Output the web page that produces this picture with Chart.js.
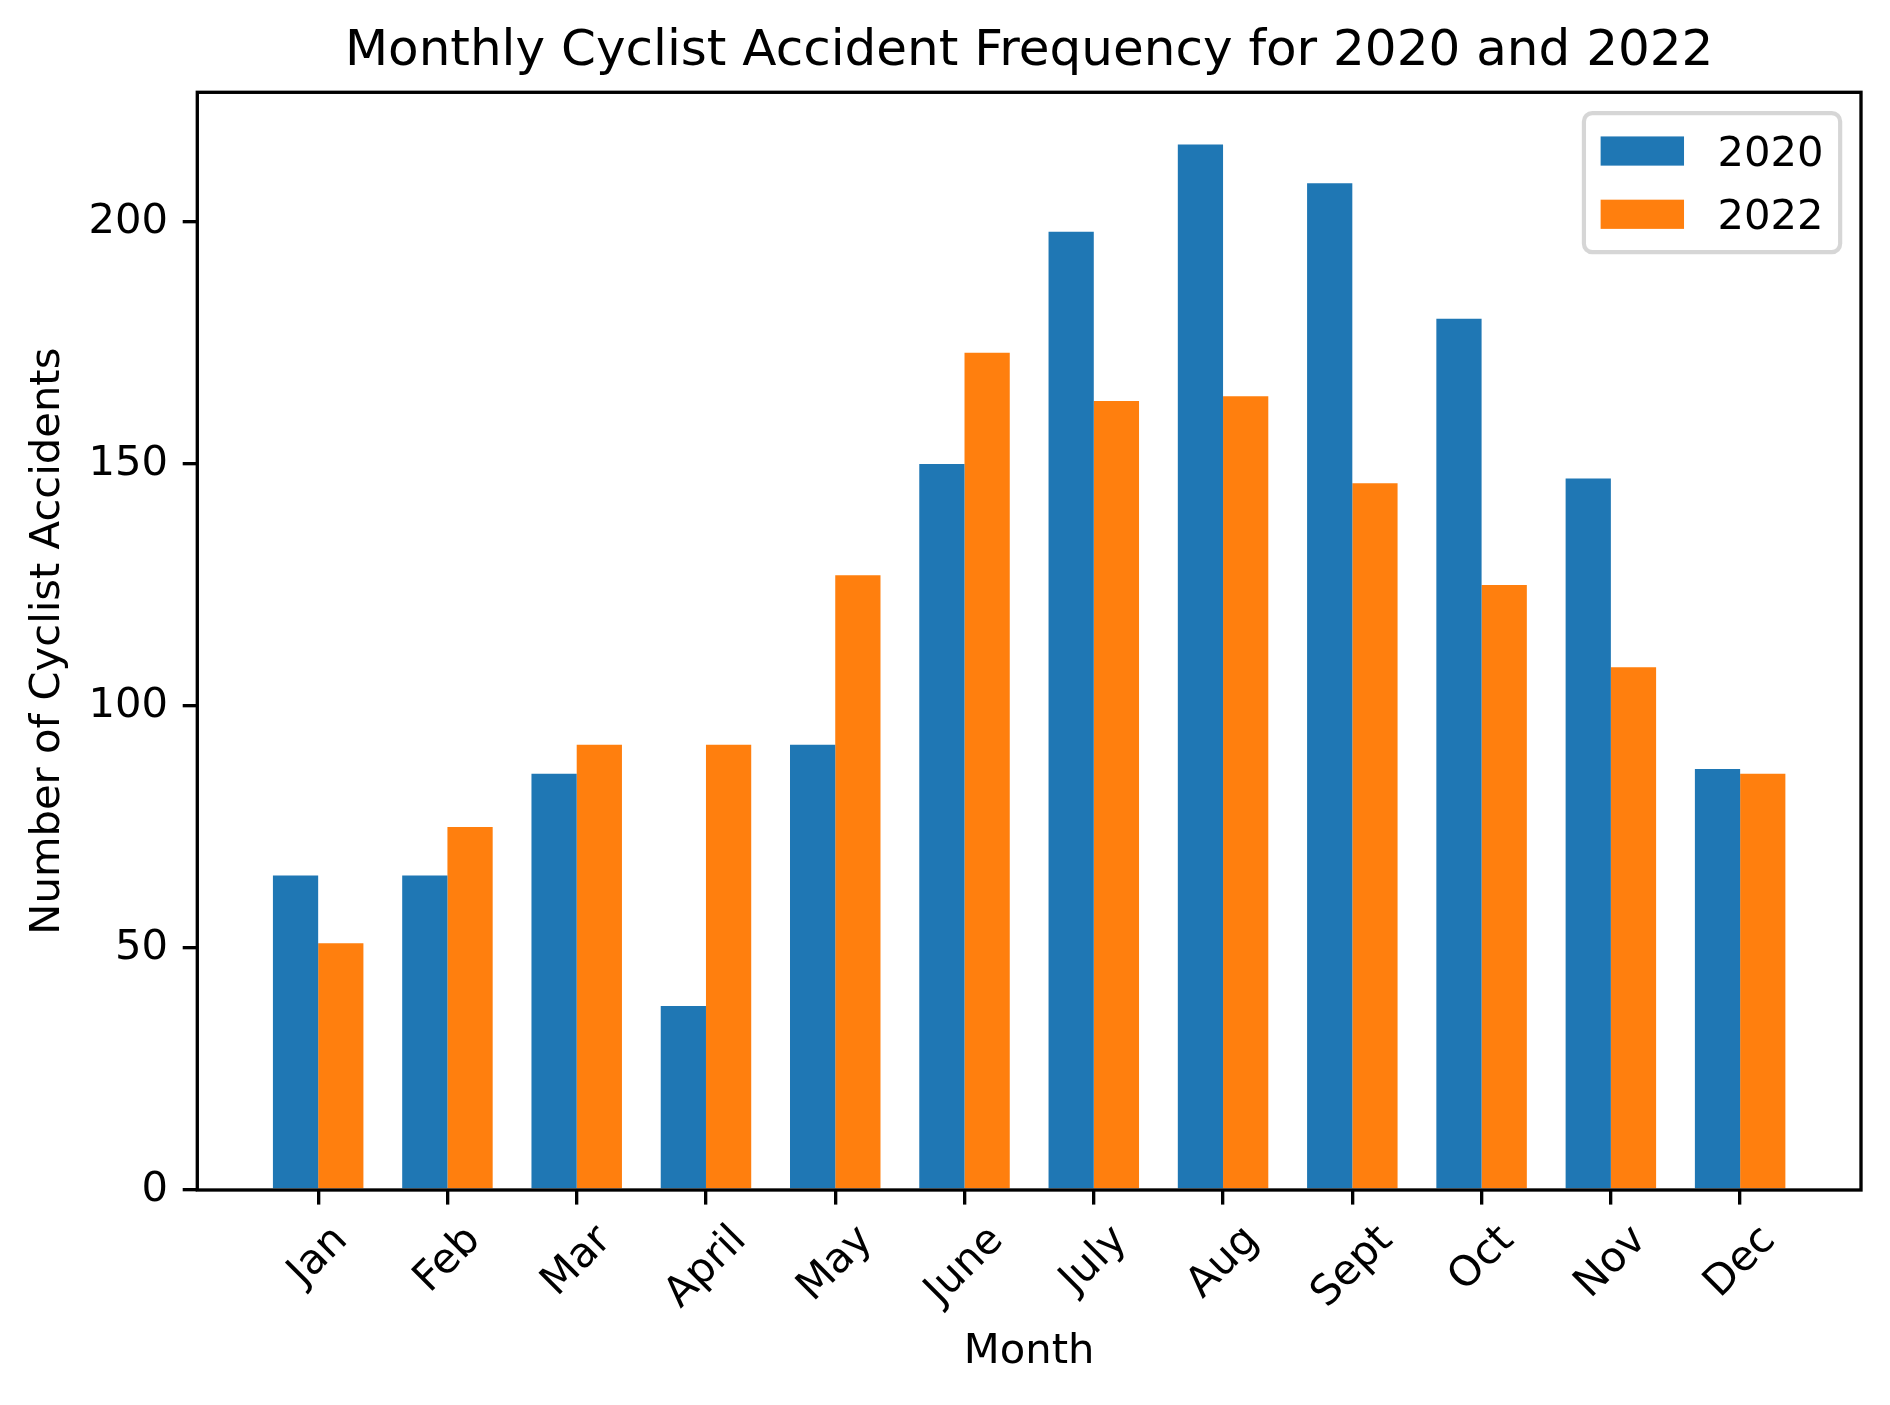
<!DOCTYPE html>
<html>
<head>
<meta charset="utf-8">
<script src="https://cdn.jsdelivr.net/npm/chart.js@4.4.1/dist/chart.umd.min.js"></script>
<style>
  html, body { margin: 0; padding: 0; background: #fff; }
  #wrap { width: 1890px; height: 1405px; position: relative; }
</style>
</head>
<body>
<div id="wrap"><canvas id="c"></canvas></div>
<script>
// ---- data ----
const months = ['Jan', 'Feb', 'Mar', 'April', 'May', 'June', 'July', 'Aug', 'Sept', 'Oct', 'Nov', 'Dec'];
const accidents2020 = [65, 65, 86, 38, 92, 150, 198, 216, 208, 180, 147, 87];
const accidents2022 = [51, 75, 92, 92, 127, 173, 163, 164, 146, 125, 108, 86];
const seriesLabels = ['2020', '2022'];
const yTicks = [0, 50, 100, 150, 200];
const titleText = 'Monthly Cyclist Accident Frequency for 2020 and 2022';
const xTitle = 'Month';
const yTitle = 'Number of Cyclist Accidents';

// ---- style ----
const FONT = 'DejaVu Sans';
const FS = 41.7;           // 10pt @300dpi
const TICK_LEN = 14.6;
const TICK_PAD = 14.6;
const LW = 3.33;
const COLORS = ['#1f77b4', '#ff7f0e'];

const barW = 0.35;
const span = (months.length - 1) + 2 * barW;
const xMin = -barW - 0.05 * span;
const xMax = (months.length - 1) + barW + 0.05 * span;
const yMax = 1.05 * Math.max(...accidents2020, ...accidents2022);

Chart.defaults.font.family = FONT;
Chart.defaults.color = '#000';

const spinePlugin = {
  id: 'spines',
  afterDatasetsDraw(chart) {
    const ca = chart.chartArea, ctx = chart.ctx;
    ctx.save();
    ctx.strokeStyle = '#000';
    ctx.lineWidth = LW;
    ctx.lineJoin = 'miter';
    ctx.strokeRect(ca.left, ca.top, ca.right - ca.left, ca.bottom - ca.top);
    ctx.restore();
  }
};

const xLabelPlugin = {
  id: 'xlabels',
  afterDraw(chart) {
    const ctx = chart.ctx, xs = chart.scales.x, ca = chart.chartArea;
    ctx.save();
    ctx.font = FS + 'px "' + FONT + '"';
    ctx.fillStyle = '#000';
    ctx.textAlign = 'center';
    ctx.textBaseline = 'alphabetic';
    const a = 0.76 * FS, d = 0.208 * FS, h = a + d;
    const top = ca.bottom + TICK_LEN + TICK_PAD;
    const c = Math.SQRT1_2;
    months.forEach((m, i) => {
      const w = ctx.measureText(m).width;
      const side = (w + h) * c;
      const cx = xs.getPixelForValue(i);
      const cy = top + side / 2;
      ctx.save();
      ctx.translate(cx, cy);
      ctx.rotate(-Math.PI / 4);
      ctx.fillText(m, 0, (a - d) / 2);
      ctx.restore();
    });
    ctx.restore();
  }
};

const legendPlugin = {
  id: 'mplLegend',
  afterDraw(chart) {
    const ctx = chart.ctx, ca = chart.chartArea;
    ctx.save();
    ctx.font = FS + 'px "' + FONT + '"';
    const pad = 0.4 * FS, handleW = 2.0 * FS, handleH = 0.7 * FS, textPad = 0.8 * FS;
    const labelSp = 0.5 * FS, axPad = 0.5 * FS, rowH = 42.4;
    let tw = 0;
    chart.data.datasets.forEach(ds => { tw = Math.max(tw, ctx.measureText(ds.label).width); });
    const n = chart.data.datasets.length;
    const W = pad + handleW + textPad + tw + pad;
    const H = pad * 2 + n * rowH + (n - 1) * labelSp;
    const right = ca.right - axPad, top = ca.top + axPad;
    const left = right - W;
    const r = 0.2 * FS;
    ctx.beginPath();
    ctx.moveTo(left + r, top);
    ctx.lineTo(right - r, top);
    ctx.arcTo(right, top, right, top + r, r);
    ctx.lineTo(right, top + H - r);
    ctx.arcTo(right, top + H, right - r, top + H, r);
    ctx.lineTo(left + r, top + H);
    ctx.arcTo(left, top + H, left, top + H - r, r);
    ctx.lineTo(left, top + r);
    ctx.arcTo(left, top, left + r, top, r);
    ctx.closePath();
    ctx.fillStyle = 'rgba(255,255,255,0.8)';
    ctx.fill();
    ctx.lineWidth = 4.17;
    ctx.strokeStyle = 'rgba(204,204,204,0.8)';
    ctx.stroke();
    chart.data.datasets.forEach((ds, k) => {
      const rowTop = top + pad + k * (rowH + labelSp);
      const cy = rowTop + rowH / 2;
      ctx.fillStyle = ds.backgroundColor;
      ctx.fillRect(left + pad, cy - handleH / 2, handleW, handleH);
      ctx.fillStyle = '#000';
      ctx.textAlign = 'left';
      ctx.textBaseline = 'alphabetic';
      ctx.fillText(ds.label, left + pad + handleW + textPad, cy + 0.35 * FS);
    });
    ctx.restore();
  }
};

new Chart(document.getElementById('c'), {
  type: 'bar',
  data: {
    datasets: [
      { label: seriesLabels[0], data: accidents2020.map((v, i) => ({ x: i, y: v })), backgroundColor: COLORS[0], borderWidth: 0 },
      { label: seriesLabels[1], data: accidents2022.map((v, i) => ({ x: i, y: v })), backgroundColor: COLORS[1], borderWidth: 0 }
    ]
  },
  options: {
    responsive: true,
    maintainAspectRatio: false,
    devicePixelRatio: 1,
    animation: false,
    events: [],
    categoryPercentage: 0.7,
    barPercentage: 1.0,
    layout: { padding: { left: 0, right: 29, top: 0, bottom: 0 } },
    plugins: {
      legend: { display: false },
      tooltip: { enabled: false },
      title: {
        display: true,
        text: titleText,
        fullSize: false,
        color: '#000',
        font: { family: FONT, size: 50, weight: 'normal', lineHeight: 1.2 },
        padding: { top: 21.7, bottom: 10.6 }
      }
    },
    scales: {
      x: {
        type: 'linear',
        position: 'bottom',
        min: xMin,
        max: xMax,
        offset: false,
        afterBuildTicks: (s) => { s.ticks = months.map((_, i) => ({ value: i })); },
        afterFit: (s) => { s.height = 215; },
        ticks: { display: false },
        grid: { offset: false, drawOnChartArea: false, drawTicks: true, tickLength: TICK_LEN, lineWidth: LW, tickWidth: LW, color: '#000', tickColor: '#000' },
        border: { display: false },
        title: { display: true, text: xTitle, color: '#000', font: { family: FONT, size: FS, lineHeight: 1.2 }, padding: { top: 0, bottom: 27.4 } }
      },
      y: {
        type: 'linear',
        min: 0,
        max: yMax,
        afterBuildTicks: (s) => { s.ticks = yTicks.map(v => ({ value: v })); },
        afterFit: (s) => { s.width = 197.3; },
        ticks: { color: '#000', font: { family: FONT, size: FS }, padding: TICK_PAD, autoSkip: false },
        grid: { offset: false, drawOnChartArea: false, drawTicks: true, tickLength: TICK_LEN, lineWidth: LW, tickWidth: LW, color: '#000', tickColor: '#000' },
        border: { display: false },
        title: { display: true, text: yTitle, color: '#000', font: { family: FONT, size: FS, lineHeight: 1.2 }, padding: { top: 23.4, bottom: 0 } }
      }
    }
  },
  plugins: [spinePlugin, xLabelPlugin, legendPlugin]
});
</script>
</body>
</html>
